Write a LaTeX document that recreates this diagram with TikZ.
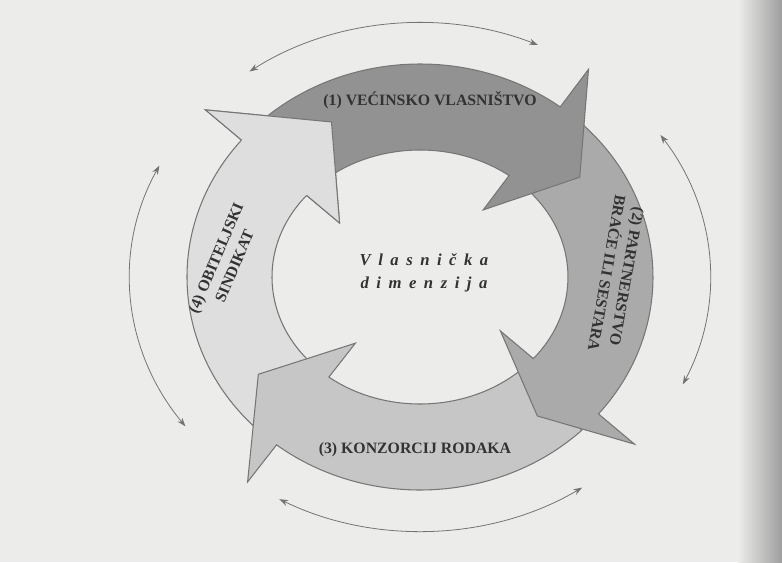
\documentclass[tikz,border=0pt]{standalone}
\usepackage{fontspec}
\setmainfont{Liberation Serif}
\usetikzlibrary{arrows.meta}

\definecolor{pagebg}{RGB}{236,236,234}
\definecolor{ownone}{RGB}{146,146,146}
\definecolor{owntwo}{RGB}{170,170,170}
\definecolor{ownthree}{RGB}{198,198,198}
\definecolor{ownfour}{RGB}{222,222,222}
\definecolor{rimgray}{RGB}{118,118,118}
\definecolor{inkgray}{RGB}{50,50,50}

\begin{document}
\begin{tikzpicture}[x=0.02cm, y=0.02cm,
    % Define the style of the curved ring arrows
    ringarrow/.style={draw=rimgray, line width=0.6pt, line join=miter},
    % Define the style of the outline of a head drawn again on top
    rim/.style={draw=rimgray, line width=0.6pt, line join=miter},
    % Define the style of the thin two-way arrows round the ring
    link/.style={{Stealth[length=5pt, width=3.5pt]}-{Stealth[length=5pt, width=3.5pt]}, draw=black!55, line width=0.45pt},
    % Define the style of the labels on the arrows
    ringlabel/.style={font=\fontsize{9}{11.5}\selectfont\bfseries, align=center, text=inkgray, inner sep=0pt},
    % Define the style of the label in the middle
    corelabel/.style={font=\fontsize{9.5}{13}\selectfont\bfseries\itshape\addfontfeatures{LetterSpace=45}, align=center, text=inkgray, inner sep=0pt}
    ]

    % Page
    \fill[pagebg] (-420,-285) rectangle (362,277);
    \shade[left color=pagebg, right color=black!38] (318,-285) rectangle (362,277);
    \useasboundingbox (-420,-285) rectangle (362,277);

    % Ring arrows (tail / barbs / tip angles)
    \foreach \n/\ta/\tb/\tp/\tone in {4/-134/-220/-243/ownfour, 3/-46/-128/-146/ownthree,
                                       2/47/-40/-53/owntwo, 1/134/53/35/ownone} {
      \filldraw[ringarrow, fill=\tone] (\ta:233 and 213)
        arc[start angle=\ta, end angle=\tb, x radius=233, y radius=213]
        -- (\tb:280 and 260) -- (\tp:195 and 174) -- (\tb:105 and 84) -- (\tb:148 and 127)
        arc[start angle=\tb, end angle=\ta, x radius=148, y radius=127] -- cycle;
    }

    % Head of arrow 4 lies over the tail of arrow 1
    \fill[ownfour] (-220:233 and 213) -- (-220:280 and 260) -- (-243:195 and 174)
      -- (-220:105 and 84) -- (-220:148 and 127) -- cycle;
    \draw[rim] (-220:233 and 213) -- (-220:280 and 260) -- (-243:195 and 174)
      -- (-220:105 and 84) -- (-220:148 and 127);

    % Labels
    \node[ringlabel] (own1) at (10,177) {(1) VEĆINSKO VLASNIŠTVO};
    \node[ringlabel, rotate=-100] (own2) at (197,2) {(2) PARTNERSTVO\\BRAĆE ILI SESTARA};
    \node[ringlabel] (own3) at (-5,-173) {(3) KONZORCIJ RODAKA};
    \node[ringlabel, rotate=67] (own4) at (-195,15) {(4) OBITELJSKI\\SINDIKAT};
    \node[corelabel] (core) at (4,4) {Vlasnička\\dimenzija};

    % Two-way arrows round the ring
    \foreach \side/\sa/\ea in {top/126/66, right/34/-25, bottom/-56/-119, left/216/154} {
      \coordinate (\side a) at (\sa:290 and 254);
      \coordinate (\side b) at (\ea:290 and 254);
      \draw[link] (\side a) arc[start angle=\sa, end angle=\ea, x radius=290, y radius=254];
    }
\end{tikzpicture}
\end{document}
